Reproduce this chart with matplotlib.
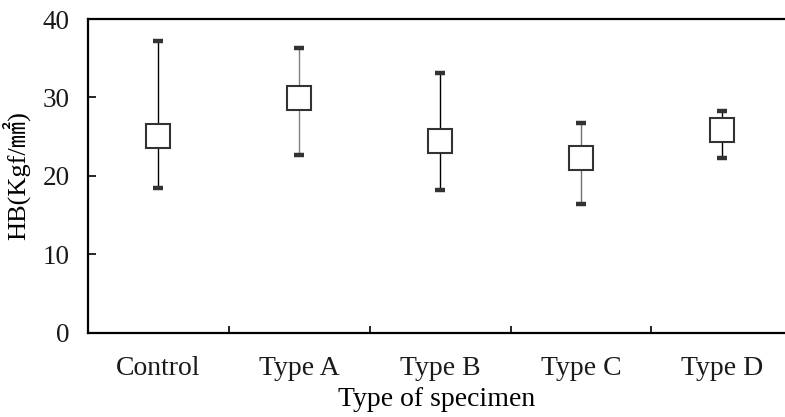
'''
시편 종류별 경도(HB) 범위 그래프
'''
import matplotlib
matplotlib.use("Agg")
import matplotlib.pyplot as plt
import numpy as np

plt.rcParams['font.family'] = ['Liberation Serif', 'Noto Sans CJK KR', 'DejaVu Sans']
plt.rcParams['text.color'] = '#1a1a1a'
plt.rcParams['xtick.labelcolor'] = '#1a1a1a'
plt.rcParams['ytick.labelcolor'] = '#1a1a1a'

# 데이터
categories = ["Control", "Type A", "Type B", "Type C", "Type D"]
hbHigh = [37.2, 36.3, 33.1, 26.7, 28.3]
hbLow = [18.4, 22.6, 18.2, 16.4, 22.3]
hbMean = [25.1, 29.9, 24.4, 22.3, 25.8]
whiskerColors = ["black", "#808080", "black", "#707070", "black"]

fig = plt.figure(figsize=(7.85, 4.17), dpi=100)
ax = fig.add_axes([0.1121, 0.2026, 0.8879, 0.7518])

x = np.arange(len(categories))

# 최고-최저 선
ax.vlines(x, hbLow, hbHigh, colors=whiskerColors, linewidth=1.0, zorder=2)
# 끝 표시
ax.plot(x, hbHigh, linestyle='none', marker='_', markersize=7.2, markeredgewidth=3.2,
        color='#333333', zorder=3)
ax.plot(x, hbLow, linestyle='none', marker='_', markersize=7.2, markeredgewidth=3.2,
        color='#333333', zorder=3)
# 평균 사각형
ax.plot(x, hbMean, linestyle='none', marker='s', markersize=17.5, markerfacecolor='white',
        markeredgecolor='#333333', markeredgewidth=1.5, zorder=4)

ax.set_xlim(-0.5, 4.448)
ax.set_ylim(0, 40)
ax.set_yticks(np.arange(0, 41, 10))
ax.set_xticks(x)
ax.set_xticklabels(categories)
ax.set_xticks(np.arange(0.5, 4.0, 1.0), minor=True)

ax.tick_params(axis='y', direction='in', length=6, width=1.2, pad=13, labelsize=19.5)
ax.tick_params(axis='x', which='major', length=0, pad=17, labelsize=20)
ax.tick_params(axis='x', which='minor', direction='in', length=5, width=1.2)

for side in ['left', 'bottom', 'top']:
    ax.spines[side].set_linewidth(1.6)
ax.spines['right'].set_visible(False)

ax.set_xlabel("Type of specimen", fontsize=20, labelpad=4)
ax.set_ylabel("HB(Kgf/㎟)", fontsize=19, labelpad=9)

fig.savefig("out.png", dpi=100)
